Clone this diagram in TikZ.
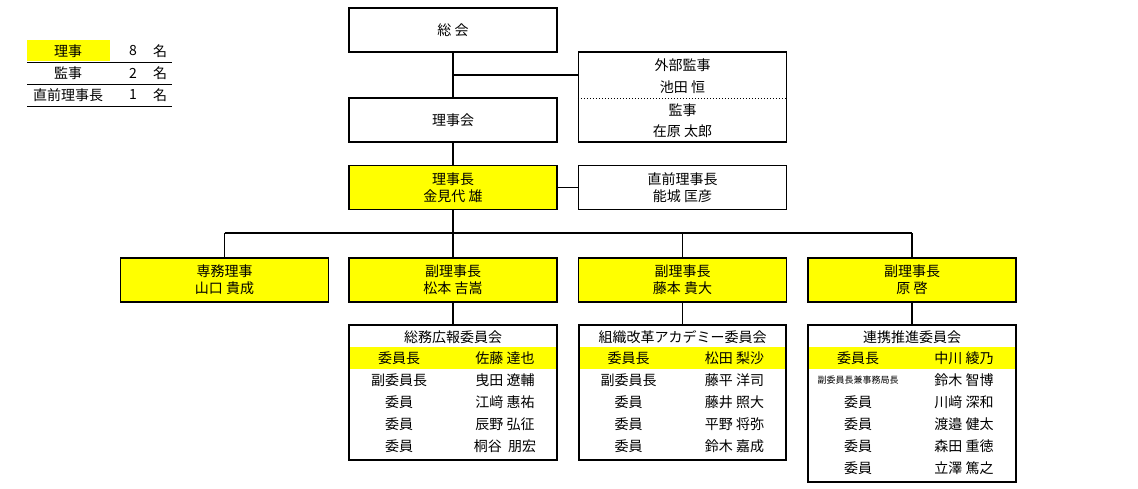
\documentclass[tikz,border=0pt]{standalone}
\usepackage{fontspec}
\setmainfont{Noto Sans CJK JP}
\definecolor{hiyellow}{RGB}{255,255,0}
\newcommand\smallrole{{\fontsize{9}{10}\selectfont 副委員長兼事務局長}}
\begin{document}
\begin{tikzpicture}[x=1pt,y=-1pt, line width=1.5pt,
  box/.style={draw, minimum width=208pt, minimum height=44pt, align=center, font=\fontsize{14}{17}\selectfont, inner sep=0pt},
  hibox/.style={box, fill=hiyellow},
  txt/.style={font=\fontsize{14}{16}\selectfont, inner sep=0pt}]
\useasboundingbox (0,0) rectangle (1138,488);
% Legend
\fill[hiyellow] (27,40) rectangle (110,61);
\node[txt] (lg1) at (68,51) {理事};  \node[txt] at (133,51) {8}; \node[txt] at (160,51) {名};
\node[txt] (lg2) at (68,73) {監事};  \node[txt] at (133,73) {2}; \node[txt] at (160,73) {名};
\node[txt] (lg3) at (68,95) {直前理事長}; \node[txt] at (133,95) {1}; \node[txt] at (160,95) {名};
\foreach \y in {62,84,106} \draw[line width=1pt] (27,\y) -- (172,\y);
% Nodes
\node[box] (soukai) at (453,30) {総\ 会};
\node[box] (rijikai) at (453,120) {理事会};
\node[box, minimum height=90pt] (kanji) at (682.5,97) {};
\node[txt] at (682.5,65) {外部監事};
\node[txt] at (682.5,87) {池田 恒};
\node[txt] at (682.5,110) {監事};
\node[txt] at (682.5,131) {在原 太郎};
\draw[dotted, line width=1pt] (kanji.west |- 0,98) -- (kanji.east |- 0,98);
\node[hibox] (rijicho) at (453,187.5) {理事長\\金見代 雄};
\node[box] (zenrijicho) at (682.5,187.5) {直前理事長\\能城 匡彦};
\node[hibox] (senmu) at (224.5,280) {専務理事\\山口 貴成};
\node[hibox] (fuku1) at (453,280) {副理事長\\松本 吉嵩};
\node[hibox] (fuku2) at (682.5,280) {副理事長\\藤本 貴大};
\node[hibox] (fuku3) at (912,280) {副理事長\\原 啓};
% Edges
\coordinate (bus) at (453,233);
\coordinate (kbr) at (453,75);
\draw (soukai) -- (rijikai);
\draw (kbr) -- (kanji.west |- kbr);
\draw (rijikai) -- (rijicho);
\draw (rijicho) -- (zenrijicho);
\draw (rijicho) -- (bus);
\draw (senmu.north |- bus) -- (fuku3.north |- bus);
\foreach \n in {senmu,fuku1,fuku2,fuku3} \draw (\n.north |- bus) -- (\n);
% Committees
\foreach \cx in {453,682.5,912} \fill[hiyellow] (\cx-103,347) rectangle (\cx+103,369);
\node[txt] at (453,337) {総務広報委員会};
\node[txt] at (682.5,337) {組織改革アカデミー委員会};
\node[txt] at (912,337) {連携推進委員会};
\foreach \role/\who [count=\j] in {委員長/佐藤 達也,副委員長/曳田 遼輔,委員/江﨑 惠祐,委員/辰野 弘征,委員/桐谷\ \ 朋宏}{
  \node[txt] at (399,336+22*\j) {\role};
  \node[txt] at (505,336+22*\j) {\who};
}
\foreach \role/\who [count=\j] in {委員長/松田 梨沙,副委員長/藤平 洋司,委員/藤井 照大,委員/平野 将弥,委員/鈴木 嘉成}{
  \node[txt] at (628.5,336+22*\j) {\role};
  \node[txt] at (734.5,336+22*\j) {\who};
}
\foreach \role/\who [count=\j] in {委員長/中川 綾乃,\smallrole/鈴木 智博,委員/川﨑 深和,委員/渡邉 健太,委員/森田 重徳,委員/立澤 篤之}{
  \node[txt] at (858,336+22*\j) {\role};
  \node[txt] at (964,336+22*\j) {\who};
}
\draw[line width=2.5pt] (349,325) rectangle (557,460);
\draw[line width=2.5pt] (579,325) rectangle (786,460);
\draw[line width=2.5pt] (808,325) rectangle (1016,482);
\coordinate (c1t) at (453,325); \coordinate (c2t) at (682.5,325); \coordinate (c3t) at (912,325);
\draw (fuku1) -- (c1t);
\draw (fuku2) -- (c2t);
\draw (fuku3) -- (c3t);
\end{tikzpicture}
\end{document}
